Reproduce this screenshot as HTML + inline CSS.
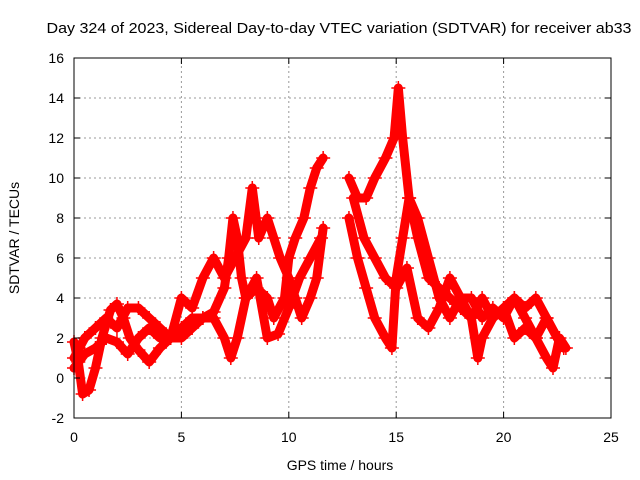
<!DOCTYPE html>
<html><head><meta charset="utf-8"><style>
body{margin:0;background:#fff}
svg{display:block;font-family:"Liberation Sans",sans-serif}
</style></head><body>
<svg id="chart" width="640" height="480">
<text x="339" y="33" font-size="15" text-anchor="middle" textLength="585" lengthAdjust="spacingAndGlyphs">Day 324 of 2023, Sidereal Day-to-day VTEC variation (SDTVAR) for receiver ab33</text>
<text x="340" y="470" font-size="14" text-anchor="middle">GPS time / hours</text>
<text transform="translate(19,238) rotate(-90)" font-size="14" text-anchor="middle">SDTVAR / TECUs</text>
<g id="grid"></g><g id="series"></g>
<rect x="74" y="58" width="537" height="360" fill="none" stroke="#000" stroke-width="1"/>
<g id="ticks"></g>
</svg>
<script>
const xTicks=[0,5,10,15,20,25];
const yTicks=[-2,0,2,4,6,8,10,12,14,16];
const track1=[[0,1.8],[0.2,0.8],[0.4,-0.8],[0.7,-0.6],[1,0.5],[1.3,2],[1.7,3.4],[2,3.7],[2.3,3],[2.6,2],[3,1.4],[3.5,0.8],[4,1.5],[4.5,2],[5,2],[5.5,2.5],[6,3],[6.5,3.3],[7,4.5],[7.2,6],[7.4,8],[7.6,7],[7.8,5],[8,4],[8.5,4.5],[9,4],[9.3,3],[9.8,4],[10,6],[10.3,7],[10.7,8],[11,9.5],[11.3,10.5],[11.6,11]];
const track2=[[0,1],[0.5,2],[1,2.5],[1.5,3],[2,2.5],[2.5,3.5],[3,3.5],[3.5,3],[4,2.5],[4.5,2],[5,4],[5.5,3.5],[6,5],[6.5,6],[7,5],[7.5,6],[8,7],[8.3,9.5],[8.6,7],[9,8],[9.3,7],[9.6,6],[10,5],[10.3,4],[10.6,3],[11,4],[11.3,5],[11.6,7.5]];
const track3=[[0,0.5],[0.5,1.2],[1,1.5],[1.5,2],[2,1.8],[2.5,1.2],[3,2],[3.5,2.5],[4,2],[4.5,2],[5,2.5],[5.5,3],[6,3],[6.5,3],[7,2],[7.3,1],[7.6,2],[8,4],[8.5,5],[9,2],[9.5,2.2],[10,3.5],[10.5,5],[11,6],[11.5,7]];
const track4=[[12.8,10],[13.2,9],[13.6,9],[14,10],[14.5,11],[14.9,12],[15.1,14.5],[15.3,12],[15.6,9],[16,7],[16.5,5],[17,4.5],[17.5,4],[18,3.5],[18.5,3],[19,4],[19.5,3],[20,3.5],[20.5,4],[21,3],[21.5,2],[22,3],[22.5,2],[22.8,1.5]];
const track5=[[12.8,8],[13.2,6],[13.6,4.5],[14,3],[14.5,2],[14.8,1.5],[15,5],[15.3,7],[15.6,9],[16,8],[16.5,6],[17,4],[17.5,3],[18,4],[18.5,4],[19,3],[19.5,3.5],[20,3],[20.5,4],[21,3.5],[21.5,4],[22,3],[22.5,2],[22.8,1.5]];
const track6=[[13,9],[13.5,7],[14,6],[14.5,5],[15,4.5],[15.5,5.5],[16,3],[16.5,2.5],[17,3.5],[17.5,5],[18,4],[18.5,3],[18.8,1],[19,2],[19.5,3],[20,3.5],[20.5,2],[21,2.5],[21.5,2],[22,1],[22.3,0.5],[22.6,2],[22.9,1.5]];
const tracks=[track1,track2,track3,track4,track5,track6];
const X0=74,X1=611,Y0=418,Y1=58;
const xs=v=>X0+(v-0)/(25-0)*(X1-X0);
const ys=v=>Y0-(v+2)/(16+2)*(Y0-Y1);
const NS="http://www.w3.org/2000/svg";
const grid=document.getElementById('grid'),tk=document.getElementById('ticks'),sg=document.getElementById('series');
function mk(t,a,p){const e=document.createElementNS(NS,t);for(const k in a)e.setAttribute(k,a[k]);p.appendChild(e);return e;}
xTicks.forEach(v=>{const x=xs(v);
 if(v>0&&v<25){const g=mk('line',{x1:x,x2:x,y1:Y0,y2:Y1,stroke:'#999','stroke-dasharray':'2,3'},grid);
 
 }
 const t=mk('text',{x:x,y:Y0+24,'font-size':14,'text-anchor':'middle'},tk);t.textContent=v;
 
 
 mk('line',{x1:x,x2:x,y1:Y0,y2:Y0-6,stroke:'#000'},tk);mk('line',{x1:x,x2:x,y1:Y1,y2:Y1+6,stroke:'#000'},tk);});
yTicks.forEach(v=>{const y=ys(v);
 if(v>-2&&v<16){const g=mk('line',{x1:X0,x2:X1,y1:y,y2:y,stroke:'#999','stroke-dasharray':'2,3'},grid);
 
 }
 const t=mk('text',{x:X0-10,y:y+5,'font-size':14,'text-anchor':'end'},tk);t.textContent=v;
 
 
 mk('line',{x1:X0,x2:X0+6,y1:y,y2:y,stroke:'#000'},tk);mk('line',{x1:X1,x2:X1-6,y1:y,y2:y,stroke:'#000'},tk);});
tracks.forEach((tr,i)=>{
 const pl=mk('polyline',{points:tr.map(p=>xs(p[0])+','+ys(p[1])).join(' '),fill:'none',stroke:'#f00','stroke-width':9,'stroke-linejoin':'round','stroke-linecap':'round'},sg);
 
 
 tr.forEach(p=>{const x=xs(p[0]),y=ys(p[1]);
  const m=mk('path',{d:`M${x-7},${y}H${x+7}M${x},${y-7}V${y+7}`,stroke:'#f00','stroke-width':1.5},sg);
  
  });
});
</script>
</body></html>
